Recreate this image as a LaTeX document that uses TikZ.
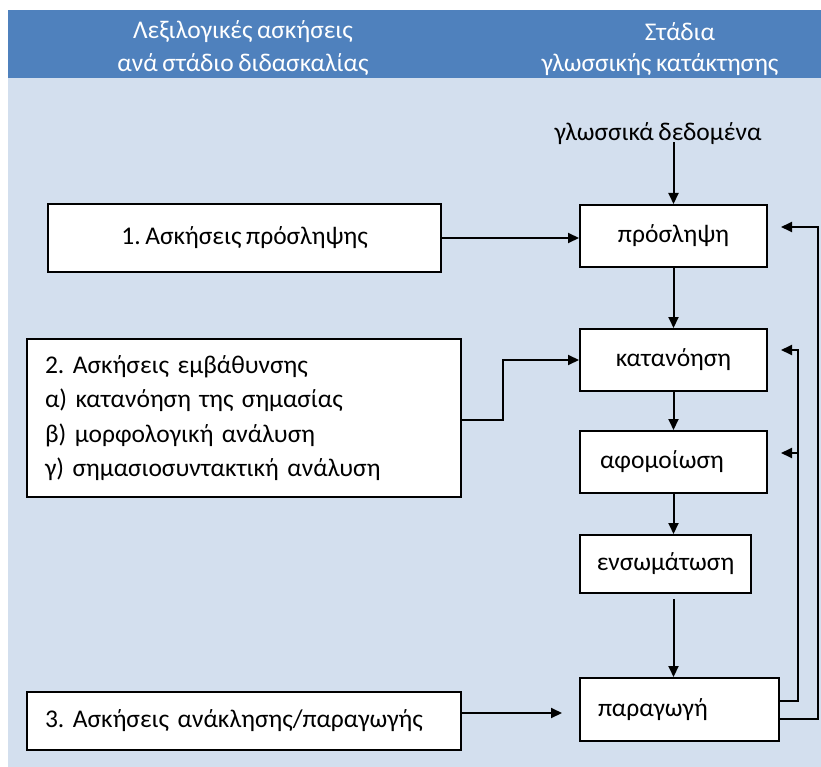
\documentclass[tikz,border=0pt]{standalone}
\usepackage{fontspec}
\setmainfont{Carlito}[WordSpace=0.8]
\usetikzlibrary{arrows.meta}
\definecolor{hdrblue}{HTML}{4F81BD}
\definecolor{bglight}{HTML}{D3DFEE}
\newcommand{\bodyfnt}{\fontsize{25.5}{34.5}\selectfont\frenchspacing}
\newcommand{\hdrfnt}{\fontsize{25.5}{33}\selectfont\frenchspacing}
\begin{document}
\begin{tikzpicture}[x=1pt,y=-1pt,
  box/.style={draw=black, line width=2pt, fill=white, inner sep=0pt, font=\bodyfnt, align=center},
  arr/.style={line width=2pt, -{Triangle[length=11pt,width=10pt]}},
  hdrtext/.style={text=white, font=\hdrfnt, align=center, inner sep=0pt},
  plain/.style={font=\bodyfnt, inner sep=0pt}]
\useasboundingbox (0,0) rectangle (821,767);
\fill[bglight] (8,78) rectangle (821,767);
\fill[hdrblue] (8,10) rectangle (821,78);

\node[hdrtext] (h1) at (243,48) {Λεξιλογικές ασκήσεις\\ανά στάδιο διδασκαλίας};
\node[hdrtext] (h2a) at (680,32) {Στάδια};
\node[hdrtext] (h2b) at (660,65) {γλωσσικής κατάκτησης};

\node[plain] (gd) at (658,134) {γλωσσικά δεδομένα};

\node[box, minimum width=393pt, minimum height=68pt] (b1) at (244.5,238) {1. Ασκήσεις πρόσληψης};
\node[box, minimum width=434pt, minimum height=158pt, text width=398pt, align=left] (b2) at (244,418)
  {2. Ασκήσεις εμβάθυνσης\\α) κατανόηση της σημασίας\\β) μορφολογική ανάλυση\\γ) σημασιοσυντακτική ανάλυση};
\node[box, minimum width=434pt, minimum height=58pt, text width=398pt, align=left] (b3) at (244,721)
  {3. Ασκήσεις ανάκλησης/παραγωγής};

\node[box, minimum width=187pt, minimum height=62pt] (p1) at (673.5,236) {πρόσληψη};
\node[box, minimum width=187pt, minimum height=62pt] (p2) at (673.5,360) {κατανόηση};
\node[box, minimum width=187pt, minimum height=62pt, text width=147pt, align=left] (p3) at (673.5,462) {αφομοίωση};
\node[box, minimum width=171pt, minimum height=58pt] (p4) at (665.5,564) {ενσωμάτωση};
\node[box, minimum width=199pt, minimum height=63pt, text width=163pt, align=left] (p5) at (679.5,709.5) {παραγωγή};

% vertical chain
\draw[arr] (p1.north |- gd.south) ++(0,-3) -- (p1.north);
\draw[arr] (p1.south) -- (p2.north);
\draw[arr] (p2.south) -- (p2.south |- p3.north);
\draw[arr] (p1.south |- p3.south) -- (p1.south |- p4.north);
\draw[arr] ([yshift=-5pt]p1.south |- p4.south) -- (p1.south |- p5.north);

% inputs
\draw[arr] (b1.east) -- (b1.east -| p1.west);
\draw[arr] ([yshift=-2pt]b2.east) -- ++(41,0) |- (p2.west);
\draw[arr] ([yshift=8pt]b3.east) -- ([yshift=8pt,xshift=-17pt]b3.east -| p5.west);

% feedback
\coordinate (o) at (818,227);
\coordinate (i) at (798,350);
\coordinate (j) at (798,453);
\draw[arr] ([yshift=-9.5pt]p5.east) -| (o) -- ([xshift=13pt,yshift=9pt]p1.east);
\draw[arr] ([yshift=8.5pt]p5.east) -| (i) -- ([xshift=13pt,yshift=10pt]p2.east);
\draw[arr] (j) -- ([xshift=13pt,yshift=9pt]p3.east);
\end{tikzpicture}
\end{document}
